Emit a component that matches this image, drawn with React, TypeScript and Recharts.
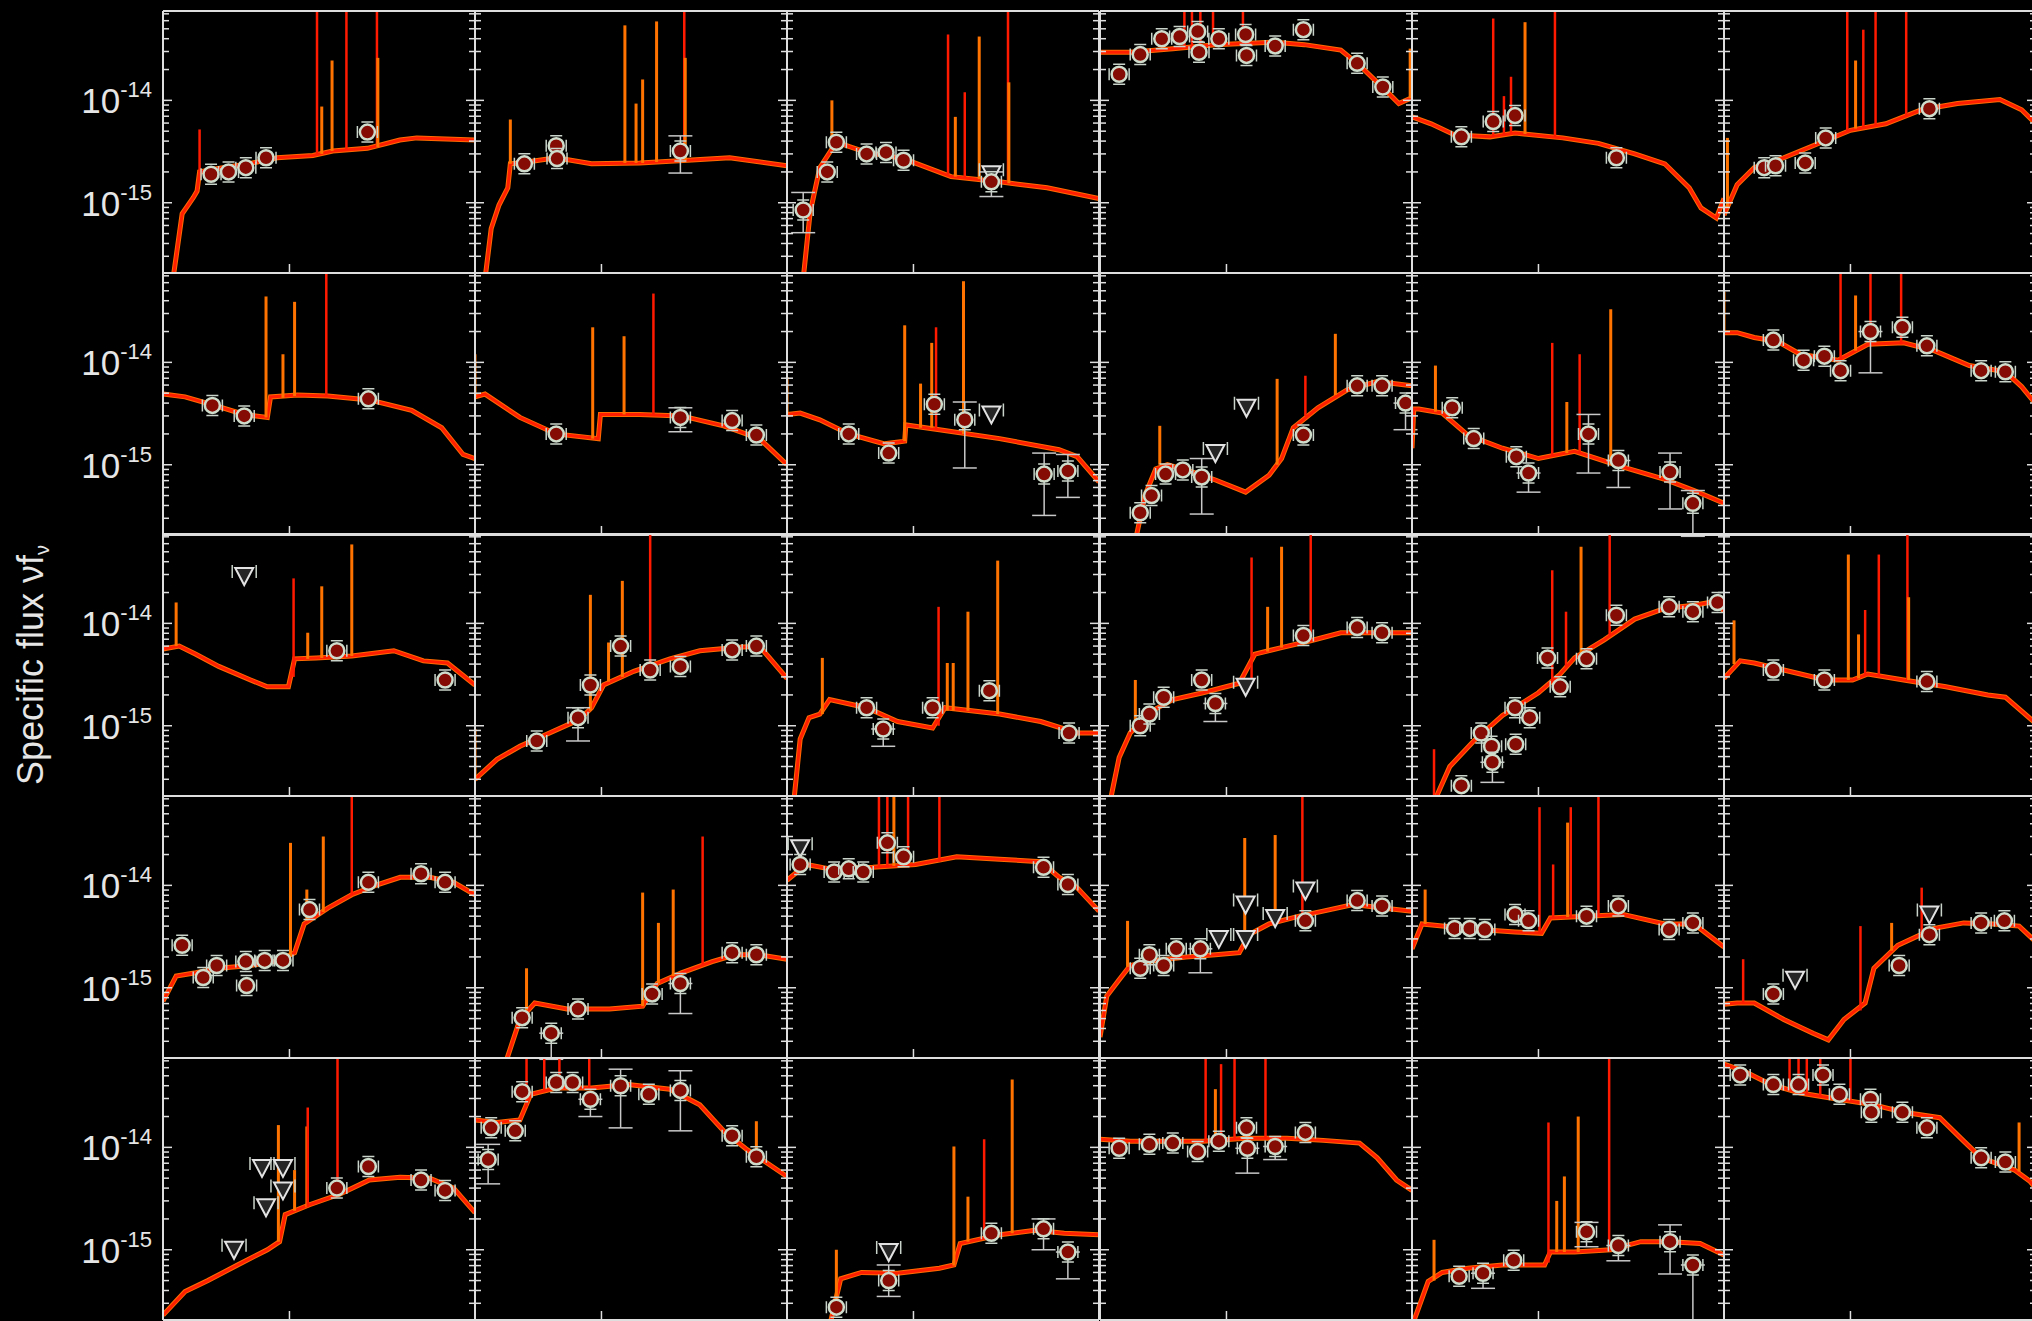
import React from "react";
import {
  ComposedChart,
  Line,
  Scatter,
  XAxis,
  YAxis,
  ReferenceLine,
  ErrorBar,
} from "recharts";

// grid of 5 x 6 SED panels, wavelength in micron, flux nu*f_nu
const COLS = 6;
const PANEL_W = 312;
const PANEL_H = 262;
const X_DOMAIN = [0.3, 5.85];
const Y_DOMAIN = [2.06e-16, 7.46e-14];

const xMajorTicks = [1];
const xMinorTicks = [0.4, 0.5, 0.6, 0.7, 0.8, 0.9, 2, 3, 4, 5];
const yMajorTicks = [1e-15, 1e-14];
const yMinorTicks = [
  3e-16, 4e-16, 5e-16, 6e-16, 7e-16, 8e-16, 9e-16,
  2e-15, 3e-15, 4e-15, 5e-15, 6e-15, 7e-15, 8e-15, 9e-15,
  2e-14, 3e-14, 4e-14, 5e-14, 6e-14, 7e-14,
];

// continuum of each spectrum: [wavelength, flux]
const spectra: number[][][] = [
  [[0.33,1.8e-16],[0.36,7.8e-16],[0.40,1.12e-15],[0.415,1.3e-15],[0.425,2.0e-15],[0.50,2.15e-15],[0.68,2.4e-15],[0.89,2.75e-15],[1.25,2.9e-15],[1.51,3.2e-15],[2.1,3.4e-15],[2.86,4.1e-15],[3.36,4.3e-15],[5.85,4.1e-15]],
  [[0.33,1.8e-16],[0.35,5.6e-16],[0.377,9.5e-16],[0.41,1.4e-15],[0.42,2.4e-15],[0.46,2.45e-15],[0.65,2.75e-15],[0.91,2.4e-15],[1.44,2.45e-15],[2.27,2.6e-15],[3.39,2.75e-15],[5.85,2.3e-15]],
  [[0.35,1.8e-16],[0.374,8.1e-16],[0.41,2.2e-15],[0.48,3.9e-15],[0.64,3.1e-15],[0.91,2.7e-15],[1.43,1.8e-15],[2.27,1.6e-15],[3.57,1.4e-15],[5.85,1.1e-15]],
  [[0.30,2.95e-14],[0.40,2.95e-14],[0.60,3.2e-14],[0.90,3.5e-14],[1.59,3.7e-14],[2.1,3.5e-14],[2.97,3.1e-14],[3.55,2.2e-14],[4.2,1.5e-14],[4.72,1.15e-14],[5.16,9.3e-15],[5.78,1.05e-14]],
  [[0.30,6.9e-15],[0.36,5.9e-15],[0.45,4.6e-15],[0.63,4.4e-15],[0.80,4.8e-15],[1.26,4.3e-15],[1.77,3.8e-15],[2.5,3.0e-15],[3.33,2.4e-15],[4.2,1.4e-15],[4.7,8.9e-16],[5.44,7.1e-16],[5.85,1.1e-15]],
  [[0.30,7.6e-16],[0.34,1.5e-15],[0.40,2.2e-15],[0.53,2.75e-15],[0.70,3.6e-15],[1.0,5.1e-15],[1.40,5.9e-15],[1.97,8.1e-15],[2.77,9.3e-15],[4.15,1.02e-14],[5.1,8.1e-15],[5.85,5.9e-15]],

  [[0.30,4.9e-15],[0.37,4.6e-15],[0.49,3.8e-15],[0.65,3.1e-15],[0.81,2.9e-15],[0.835,4.6e-15],[1.08,4.8e-15],[1.44,4.7e-15],[2.14,4.3e-15],[3.2,3.4e-15],[4.26,2.3e-15],[5.22,1.26e-15],[5.85,1.15e-15]],
  [[0.30,4.6e-15],[0.33,4.9e-15],[0.46,2.9e-15],[0.65,2.0e-15],[0.97,1.8e-15],[0.99,3.1e-15],[1.44,3.1e-15],[2.14,3.0e-15],[3.2,2.4e-15],[4.5,1.8e-15],[5.85,1.0e-15]],
  [[0.30,3.1e-15],[0.34,3.2e-15],[0.41,2.75e-15],[0.54,2.0e-15],[0.76,1.6e-15],[0.92,1.7e-15],[0.93,2.45e-15],[1.28,2.2e-15],[2.27,1.8e-15],[4.0,1.4e-15],[4.75,1.2e-15],[5.85,6.8e-16]],
  [[0.42,1.8e-16],[0.46,5.0e-16],[0.51,9.1e-16],[0.57,1.0e-15],[0.72,8.5e-16],[0.90,7.1e-16],[1.2,5.4e-16],[1.50,7.9e-16],[1.69,1.15e-15],[1.89,2.3e-15],[2.39,3.6e-15],[3.16,5.4e-15],[4.2,6.5e-15],[5.85,5.9e-15]],
  [[0.30,1.45e-15],[0.305,3.5e-15],[0.32,3.5e-15],[0.40,3.2e-15],[0.51,1.95e-15],[0.71,1.45e-15],[1.0,1.15e-15],[1.41,1.35e-15],[2.24,9.5e-16],[3.33,7.2e-16],[4.4,5.6e-16],[5.85,4.2e-16]],
  [[0.30,1.95e-14],[0.34,1.95e-14],[0.40,1.75e-14],[0.50,1.6e-14],[0.62,1.2e-14],[0.89,1.05e-14],[1.18,1.5e-14],[1.66,1.55e-14],[2.22,1.3e-14],[3.1,9.3e-15],[4.37,8.1e-15],[5.1,5.8e-15],[5.85,3.9e-15]],

  [[0.30,5.6e-15],[0.35,6.0e-15],[0.41,5.0e-15],[0.51,3.8e-15],[0.69,2.8e-15],[0.81,2.4e-15],[0.99,2.4e-15],[1.05,4.5e-15],[1.29,4.6e-15],[1.81,4.8e-15],[2.7,5.4e-15],[3.58,4.3e-15],[4.5,4.1e-15],[5.85,2.5e-15]],
  [[0.30,3.0e-16],[0.37,4.7e-16],[0.46,6.3e-16],[0.61,8.5e-16],[0.81,1.15e-15],[0.91,1.5e-15],[1.02,2.5e-15],[1.36,3.4e-15],[1.92,4.5e-15],[2.55,5.4e-15],[3.58,5.8e-15],[4.5,6.0e-15],[5.85,2.9e-15]],
  [[0.32,1.8e-16],[0.34,7.4e-16],[0.37,1.2e-15],[0.41,1.3e-15],[0.45,1.8e-15],[0.64,1.5e-15],[0.86,1.1e-15],[1.2,9.5e-16],[1.35,1.5e-15],[2.27,1.3e-15],[3.36,1.1e-15],[4.75,8.5e-16],[5.85,8.5e-16]],
  [[0.33,1.8e-16],[0.36,4.9e-16],[0.40,8.5e-16],[0.48,1.35e-15],[0.60,1.8e-15],[0.80,2.1e-15],[1.13,2.6e-15],[1.31,5.0e-15],[1.69,5.8e-15],[2.25,6.8e-15],[2.97,8.1e-15],[4.2,8.1e-15],[5.85,8.1e-15]],
  [[0.37,1.8e-16],[0.43,4.0e-16],[0.54,7.1e-16],[0.71,1.26e-15],[1.0,2.1e-15],[1.23,3.2e-15],[1.41,4.6e-15],[1.87,6.9e-15],[2.5,1.1e-14],[3.33,1.4e-14],[4.4,1.5e-14],[5.5,1.65e-14],[5.85,1.3e-14]],
  [[0.30,2.9e-15],[0.35,4.3e-15],[0.40,4.1e-15],[0.53,3.5e-15],[0.79,2.8e-15],[1.02,2.8e-15],[1.18,3.2e-15],[1.66,2.8e-15],[2.48,2.4e-15],[3.7,2.0e-15],[4.37,1.9e-15],[5.85,1.05e-15]],

  [[0.30,7.4e-16],[0.34,1.3e-15],[0.41,1.4e-15],[0.51,1.55e-15],[0.69,1.65e-15],[0.91,1.85e-15],[1.05,2.2e-15],[1.15,4.2e-15],[1.44,6.0e-15],[1.81,8.1e-15],[2.27,1.0e-14],[2.87,1.2e-14],[3.8,1.2e-14],[4.77,1.07e-14],[5.85,8.1e-15]],
  [[0.40,1.8e-16],[0.46,4.9e-16],[0.53,7.1e-16],[0.72,6.2e-16],[1.08,6.2e-16],[1.48,6.6e-16],[1.70,1.1e-15],[2.14,1.4e-15],[2.87,1.8e-15],[3.58,2.1e-15],[4.5,2.1e-15],[5.85,1.9e-15]],
  [[0.30,1.12e-14],[0.36,1.6e-14],[0.45,1.45e-14],[0.68,1.5e-14],[1.02,1.6e-14],[1.51,1.9e-14],[2.27,1.8e-14],[3.36,1.7e-14],[4.0,1.2e-14],[4.75,9.5e-15],[5.85,5.6e-15]],
  [[0.30,3.3e-16],[0.32,8.3e-16],[0.36,1.2e-15],[0.40,1.65e-15],[0.51,1.85e-15],[0.68,2.0e-15],[0.90,2.1e-15],[1.13,2.2e-15],[1.24,3.3e-15],[1.50,4.2e-15],[2.0,5.0e-15],[2.51,5.6e-15],[3.34,6.5e-15],[4.43,6.0e-15],[5.85,5.6e-15]],
  [[0.30,2.4e-15],[0.33,4.2e-15],[0.40,4.0e-15],[0.57,3.7e-15],[0.80,3.5e-15],[1.03,3.4e-15],[1.12,4.8e-15],[1.58,5.0e-15],[2.24,5.2e-15],[3.33,4.2e-15],[4.4,4.2e-15],[5.85,2.5e-15]],
  [[0.30,6.9e-16],[0.34,7.1e-16],[0.40,7.1e-16],[0.53,4.9e-16],[0.70,3.6e-16],[0.81,3.1e-16],[0.94,4.9e-16],[1.15,7.1e-16],[1.25,1.55e-15],[1.57,2.6e-15],[2.22,3.8e-15],[2.94,4.3e-15],[3.92,4.2e-15],[4.98,4.0e-15],[5.85,2.8e-15]],

  [[0.30,2.3e-16],[0.37,3.9e-16],[0.46,5.0e-16],[0.61,7.1e-16],[0.81,1.0e-15],[0.91,1.2e-15],[0.96,2.2e-15],[1.21,2.75e-15],[1.62,3.5e-15],[2.14,4.8e-15],[2.87,5.1e-15],[3.8,5.0e-15],[4.77,4.0e-15],[5.85,2.3e-15]],
  [[0.30,1.85e-14],[0.37,1.75e-14],[0.46,1.85e-14],[0.51,3.3e-14],[0.65,3.8e-14],[0.91,3.8e-14],[1.29,4.1e-14],[1.92,3.7e-14],[2.55,2.6e-14],[3.2,1.45e-14],[4.0,9.5e-15],[4.77,7.2e-15],[5.85,5.2e-15]],
  [[0.45,1.8e-16],[0.50,5.2e-16],[0.61,6.0e-16],[0.86,5.9e-16],[1.28,6.6e-16],[1.47,7.1e-16],[1.56,1.15e-15],[2.27,1.4e-15],[3.18,1.55e-15],[4.2,1.45e-15],[5.85,1.4e-15]],
  [[0.30,1.2e-14],[0.40,1.15e-14],[0.57,1.15e-14],[0.80,1.15e-14],[1.2,1.23e-14],[1.78,1.23e-14],[2.51,1.17e-14],[3.55,1.1e-14],[4.2,7.9e-15],[5.05,4.8e-15],[5.85,3.8e-15]],
  [[0.30,1.8e-16],[0.35,4.9e-16],[0.40,6.0e-16],[0.51,6.6e-16],[0.71,7.1e-16],[1.06,7.1e-16],[1.12,9.5e-16],[1.41,9.5e-16],[1.99,1.0e-15],[2.65,1.2e-15],[3.5,1.2e-15],[4.66,1.15e-15],[5.85,8.9e-16]],
  [[0.30,6.5e-14],[0.36,5.6e-14],[0.47,4.1e-14],[0.62,3.4e-14],[0.89,2.95e-14],[1.25,2.6e-14],[1.66,2.2e-14],[2.34,1.95e-14],[2.94,1.15e-14],[3.47,7.9e-15],[4.37,6.5e-15],[4.77,6.0e-15],[5.5,4.7e-15],[5.85,4.0e-15]],
];

// emission lines: [wavelength, continuum, peak, colour]
const emission: (number | string)[][][] = [
  [[0.425,2.0e-15,5.2e-15,"r"],[1.30,3.0e-15,1e-13,"r"],[1.36,3.0e-15,8.7e-15,"o"],[1.50,3.2e-15,2.45e-14,"o"],[1.72,3.3e-15,1e-13,"r"],[2.30,3.5e-15,1e-13,"r"],[2.32,3.5e-15,2.6e-14,"o"]],
  [[0.42,2.4e-15,6.5e-15,"o"],[1.25,2.45e-15,5.4e-14,"o"],[1.39,2.45e-15,9.3e-15,"o"],[1.48,2.45e-15,1.6e-14,"o"],[1.69,2.5e-15,5.9e-14,"o"],[2.2,2.6e-15,1e-13,"r"],[2.22,2.6e-15,2.6e-14,"o"]],
  [[0.46,3.5e-15,1e-14,"o"],[1.39,1.9e-15,4.4e-14,"r"],[1.49,1.8e-15,6.9e-15,"o"],[1.63,1.75e-15,1.2e-14,"r"],[1.87,1.7e-15,4.2e-14,"o"],[2.46,1.55e-15,1e-13,"r"],[2.48,1.55e-15,1.5e-14,"o"]],
  [[0.67,3.3e-14,1e-13,"r"],[0.72,3.3e-14,1e-13,"r"],[0.78,3.4e-14,1e-13,"r"],[0.88,3.5e-14,1e-13,"r"],[1.17,3.6e-14,1e-13,"r"],[5.75,1.05e-14,3.2e-14,"o"]],
  [[0.65,4.4e-15,6.3e-14,"r"],[0.72,4.5e-15,1.1e-14,"r"],[0.77,4.7e-15,1.7e-14,"r"],[0.88,4.7e-15,5.8e-14,"o"],[1.17,4.4e-15,1e-13,"r"]],
  [[0.31,9e-16,4.3e-15,"o"],[0.97,5e-15,1e-13,"r"],[1.05,5.3e-15,2.45e-14,"o"],[1.13,5.5e-15,4.9e-14,"r"],[1.27,5.7e-15,1e-13,"r"],[1.70,7e-15,1e-13,"r"]],

  [[0.80,2.9e-15,4.4e-14,"o"],[0.94,4.5e-15,1.2e-14,"o"],[1.05,4.7e-15,3.9e-14,"o"],[1.42,4.7e-15,1e-13,"r"]],
  [[0.30,4.6e-15,1.2e-14,"o"],[0.92,1.8e-15,2.2e-14,"o"],[1.24,3.1e-15,1.8e-14,"o"],[1.64,3.1e-15,4.7e-14,"r"]],
  [[0.30,3.1e-15,7.2e-15,"o"],[0.92,1.7e-15,2.3e-14,"o"],[1.07,2.3e-15,6.2e-15,"o"],[1.19,2.3e-15,1.55e-14,"o"],[1.24,2.2e-15,2.2e-14,"r"],[1.61,2.0e-15,6.2e-14,"o"]],
  [[0.53,1.0e-15,2.4e-15,"o"],[1.62,1.0e-15,6.9e-15,"o"],[2.12,3.0e-15,7.4e-15,"r"],[2.82,4.8e-15,1.9e-14,"o"]],
  [[0.375,3.3e-15,9.3e-15,"o"],[1.14,1.2e-15,1.55e-14,"r"],[1.31,1.3e-15,4.1e-15,"o"],[1.48,1.3e-15,1.2e-14,"r"],[1.99,1.0e-15,3.3e-14,"o"]],
  [[0.30,1.95e-14,4.9e-14,"o"],[0.91,1.05e-14,1e-13,"r"],[1.05,1.3e-14,4.5e-14,"o"],[1.21,1.5e-14,1e-13,"r"],[1.62,1.5e-14,1e-13,"r"]],

  [[0.34,6.0e-15,1.6e-14,"o"],[1.04,3e-15,2.75e-14,"r"],[1.19,4.5e-15,8.1e-15,"o"],[1.36,4.6e-15,2.3e-14,"o"],[1.81,4.8e-15,5.9e-14,"o"]],
  [[0.30,3e-16,9.3e-16,"o"],[0.90,1.4e-15,1.9e-14,"o"],[1.07,2.7e-15,6.5e-15,"o"],[1.22,3.0e-15,2.6e-14,"o"],[1.59,4e-15,1e-13,"r"]],
  [[0.42,1.3e-15,4.6e-15,"o"],[1.27,1.0e-15,1.45e-14,"r"],[1.38,1.4e-15,4.1e-15,"o"],[1.46,1.4e-15,4.1e-15,"o"],[1.68,1.4e-15,1.3e-14,"o"],[2.23,1.3e-15,4.1e-14,"o"]],
  [[0.42,9e-16,2.8e-15,"o"],[1.27,2.8e-15,4.4e-14,"r"],[1.48,5.3e-15,1.45e-14,"o"],[1.69,5.8e-15,5.6e-14,"o"],[2.23,6.8e-15,1e-13,"r"]],
  [[0.37,1.8e-16,5.9e-16,"r"],[1.14,2.8e-15,3.3e-14,"r"],[1.30,3.8e-15,1.3e-14,"r"],[1.50,4.8e-15,5.6e-14,"o"],[1.97,7.5e-15,1e-13,"r"]],
  [[0.33,4e-15,1.07e-14,"o"],[0.98,2.8e-15,4.7e-14,"o"],[1.08,2.9e-15,7.8e-15,"o"],[1.15,3.1e-15,1.35e-14,"r"],[1.31,3.1e-15,4.7e-14,"r"],[1.72,2.8e-15,1e-13,"r"],[1.74,2.8e-15,1.8e-14,"o"]],

  [[1.01,2.0e-15,2.6e-14,"o"],[1.18,4.5e-15,9.1e-15,"o"],[1.38,5.5e-15,3.0e-14,"o"],[1.81,8e-15,1e-13,"r"]],
  [[0.49,6e-16,1.55e-15,"o"],[1.48,6.6e-16,8.5e-15,"o"],[1.72,1.1e-15,4.3e-15,"o"],[1.98,1.3e-15,9.1e-15,"o"],[2.62,1.7e-15,3.0e-14,"r"]],
  [[0.72,1.5e-14,1e-13,"r"],[0.78,1.5e-14,1e-13,"r"],[0.83,1.55e-14,1e-13,"o"],[0.95,1.6e-14,1e-13,"r"],[1.28,1.7e-14,1e-13,"r"]],
  [[0.39,1.6e-15,4.5e-15,"o"],[1.19,2.5e-15,2.9e-14,"o"],[1.59,4.4e-15,3.1e-14,"o"],[2.06,5e-15,1e-13,"r"]],
  [[0.34,4.2e-15,9.1e-15,"o"],[1.01,3.4e-15,5.8e-14,"r"],[1.15,4.8e-15,1.6e-14,"r"],[1.32,4.9e-15,4.1e-14,"o"],[1.36,4.9e-15,5.8e-14,"r"],[1.77,5e-15,1e-13,"r"]],
  [[0.36,7e-16,1.9e-15,"r"],[1.10,6e-16,4.0e-15,"r"],[1.48,2.3e-15,4.3e-15,"o"],[1.97,3.3e-15,9.5e-15,"r"]],

  [[0.90,1.2e-15,1.65e-14,"o"],[1.05,2.4e-15,6.0e-15,"o"],[1.18,2.6e-15,1.6e-14,"o"],[1.19,2.6e-15,2.45e-14,"r"],[1.58,3.4e-15,1e-13,"r"]],
  [[0.49,2.5e-14,1e-13,"r"],[0.58,3.6e-14,1e-13,"r"],[0.67,3.8e-14,1e-13,"r"],[0.89,3.8e-14,1e-13,"r"],[4.37,8.5e-15,1.8e-14,"o"]],
  [[0.48,3e-16,1.0e-15,"o"],[1.47,7e-16,1.02e-14,"o"],[1.68,1.2e-15,3.3e-15,"o"],[1.96,1.25e-15,1.2e-14,"r"],[2.56,1.45e-15,4.6e-14,"o"]],
  [[0.82,1.15e-14,1e-13,"r"],[0.90,1.15e-14,3.7e-14,"o"],[0.95,1.15e-14,6.5e-14,"r"],[1.08,1.2e-14,1e-13,"r"],[1.45,1.2e-14,1e-13,"r"]],
  [[0.37,5e-16,1.25e-15,"o"],[1.10,7.5e-16,1.75e-14,"r"],[1.19,9.5e-16,3.0e-15,"o"],[1.28,9.5e-16,5.2e-15,"o"],[1.46,9.5e-16,2.0e-14,"o"],[1.96,1.0e-15,1e-13,"r"]],
  [[0.56,3.7e-14,1e-13,"r"],[0.61,3.5e-14,1e-13,"r"],[0.66,3.3e-14,1e-13,"r"],[0.75,3.1e-14,1e-13,"r"],[1.0,2.8e-14,1e-13,"r"],[4.98,5.8e-15,1.75e-14,"o"]],
];

// photometry: [wavelength, flux] or [wavelength, flux, low, high]
const photometry: number[][][] = [
  [[0.474,1.9e-15],[0.56,2.0e-15],[0.66,2.2e-15],[0.80,2.75e-15],[2.1,4.9e-15]],
  [[0.48,2.4e-15],[0.65,3.6e-15],[0.655,2.7e-15],[2.12,3.2e-15,1.95e-15,4.5e-15]],
  [[0.35,8.5e-16,5.1e-16,1.26e-15],[0.44,2.0e-15],[0.48,3.9e-15],[0.64,3.0e-15],[0.77,3.1e-15],[0.91,2.6e-15],[2.1,1.6e-15,1.15e-15,2.0e-15]],
  [[0.36,1.8e-14],[0.44,2.8e-14],[0.54,4.0e-14],[0.64,4.2e-14],[0.76,4.7e-14],[0.77,2.95e-14],[0.93,4.0e-14],[1.2,4.4e-14],[1.21,2.75e-14],[1.59,3.4e-14],[2.08,4.9e-14],[3.47,2.3e-14],[4.43,1.35e-14]],
  [[0.48,4.4e-15],[0.65,6.2e-15],[0.80,7.1e-15],[2.1,2.75e-15]],
  [[0.44,2.2e-15],[0.49,2.3e-15],[0.65,2.45e-15],[0.79,4.3e-15],[2.12,8.3e-15]],

  [[0.48,3.8e-15],[0.65,3.0e-15],[2.12,4.4e-15]],
  [[0.65,2.0e-15],[2.12,2.9e-15,2.1e-15,3.6e-15],[3.47,2.7e-15],[4.37,1.95e-15]],
  [[0.54,2.0e-15],[0.79,1.3e-15],[1.22,3.9e-15],[1.63,2.75e-15,9.3e-16,4.1e-15],[3.47,8.1e-16,3.2e-16,1.3e-15],[4.35,8.7e-16,4.8e-16,1.26e-15]],
  [[0.44,3.4e-16],[0.49,5.0e-16],[0.56,8.1e-16],[0.66,8.9e-16],[0.79,7.6e-16,3.3e-16,1.15e-15],[2.08,1.95e-15],[3.47,5.9e-15],[4.4,5.9e-15],[5.5,4.0e-15,2.2e-15,4.0e-15]],
  [[0.44,3.6e-15],[0.54,1.8e-15],[0.81,1.2e-15],[0.91,8.3e-16,5.4e-16,8.3e-16],[1.61,2.0e-15,8.3e-16,3.1e-15],[2.14,1.1e-15,6.0e-16,1.1e-15],[3.5,8.5e-16,3.7e-16,1.3e-15],[4.35,4.2e-16,2.0e-16,5.6e-16]],
  [[0.48,1.65e-14],[0.64,1.05e-14],[0.78,1.15e-14],[0.91,8.3e-15],[1.21,2.0e-14,7.9e-15,2.0e-14],[1.64,2.2e-14],[2.07,1.45e-14],[3.47,8.3e-15],[4.37,8.1e-15]],

  [[1.57,5.4e-15],[4.4,2.8e-15]],
  [[0.54,7.1e-16],[0.80,1.2e-15,7.1e-16,1.5e-15],[0.90,2.5e-15],[1.2,6.0e-15],[1.59,3.5e-15],[2.12,3.8e-15],[3.47,5.5e-15],[4.37,6.0e-15]],
  [[0.64,1.5e-15],[0.75,9.3e-16,6.3e-16,9.3e-16],[1.2,1.5e-15],[2.06,2.2e-15],[4.4,8.5e-16]],
  [[0.44,1.0e-15],[0.48,1.3e-15],[0.55,1.9e-15],[0.79,2.8e-15],[0.90,1.65e-15,1.1e-15,1.65e-15],[2.08,7.6e-15],[3.47,9.1e-15],[4.4,8.1e-15]],
  [[0.48,2.6e-16],[0.58,8.5e-16],[0.64,6.3e-16],[0.645,4.4e-16,2.8e-16,4.4e-16],[0.80,1.5e-15],[0.805,6.6e-16],[0.92,1.2e-15],[1.09,4.6e-15],[1.23,2.4e-15],[1.58,4.5e-15],[2.1,1.2e-14],[3.47,1.45e-14],[4.35,1.3e-14],[5.5,1.6e-14]],
  [[0.48,3.5e-15],[0.78,2.8e-15],[2.07,2.7e-15]],

  [[0.36,2.6e-15],[0.44,1.26e-15],[0.50,1.65e-15],[0.66,1.8e-15],[0.665,1.05e-15],[0.79,1.85e-15],[0.94,1.85e-15],[1.21,5.8e-15],[2.12,1.07e-14],[3.5,1.3e-14],[4.4,1.07e-14]],
  [[0.47,5.1e-16],[0.62,3.6e-16,2.0e-16,3.6e-16],[0.80,6.2e-16],[1.62,8.7e-16],[2.12,1.1e-15,5.6e-16,1.1e-15],[3.47,2.2e-15],[4.37,2.1e-15]],
  [[0.34,1.6e-14],[0.47,1.35e-14],[0.54,1.45e-14],[0.62,1.35e-14],[0.78,2.6e-14],[0.91,1.9e-14],[3.45,1.5e-14],[4.35,1.02e-14]],
  [[0.44,1.55e-15],[0.48,2.1e-15],[0.55,1.65e-15],[0.62,2.4e-15],[0.78,2.4e-15,1.4e-15,2.4e-15],[2.12,4.5e-15],[3.47,7.1e-15],[4.4,6.3e-15]],
  [[0.45,3.8e-15],[0.52,3.8e-15],[0.60,3.7e-15],[0.80,5.2e-15],[0.91,4.5e-15],[1.58,5.0e-15],[2.14,6.3e-15],[3.47,3.7e-15],[4.35,4.3e-15]],
  [[0.48,8.7e-16],[1.59,1.65e-15],[2.12,3.3e-15],[3.47,4.3e-15],[4.33,4.5e-15]],

  [[1.57,4.0e-15],[2.12,6.5e-15],[3.5,4.8e-15],[4.4,3.8e-15]],
  [[0.34,7.6e-15,4.4e-15,1.07e-14],[0.35,1.55e-14],[0.44,1.45e-14],[0.47,3.5e-14],[0.65,4.3e-14],[0.76,4.3e-14],[0.90,2.95e-14,2.0e-14,2.95e-14],[1.2,4.0e-14,1.55e-14,5.8e-14],[1.57,3.3e-14],[2.12,3.6e-14,1.45e-14,5.6e-14],[3.47,1.3e-14],[4.37,8.1e-15]],
  [[0.48,2.75e-16],[0.79,5.0e-16,3.5e-16,7.1e-16],[2.1,1.45e-15],[3.45,1.6e-15,1.0e-15,2.0e-15],[4.35,9.5e-16,5.2e-16,9.5e-16]],
  [[0.36,9.8e-15],[0.48,1.07e-14],[0.60,1.1e-14],[0.76,9.1e-15],[0.93,1.15e-14],[1.21,1.55e-14],[1.22,9.8e-15,5.6e-15,9.8e-15],[1.59,1.02e-14,7.6e-15,1.02e-14],[2.12,1.4e-14]],
  [[0.47,5.5e-16],[0.59,5.9e-16,4.2e-16,5.9e-16],[0.79,7.9e-16],[1.58,1.5e-15,1.07e-15,1.85e-15],[2.14,1.1e-15,7.8e-16,1.1e-15],[3.5,1.2e-15,5.8e-16,1.75e-15],[4.35,7.1e-16,2.0e-16,7.1e-16]],
  [[0.35,5.1e-14],[0.48,4.1e-14],[0.61,4.1e-14],[0.77,5.1e-14],[0.90,3.3e-14],[1.21,2.95e-14],[1.22,2.2e-14],[1.64,2.2e-14],[2.07,1.55e-14],[3.47,7.9e-15],[4.37,7.2e-15]],
];

// upper limits: [wavelength, flux]
const upperLimits: number[][][] = [
  [], [], [[2.1,1.9e-15]], [], [], [],
  [], [], [[2.1,3.1e-15]], [[0.90,1.3e-15],[1.21,3.6e-15]], [], [],
  [[0.65,2.9e-14]], [], [], [[1.2,2.4e-15]], [], [],
  [], [], [[0.34,2.3e-14]], [[0.93,3.0e-15],[1.2,6.5e-15],[1.2,3.0e-15],[1.59,4.8e-15],[2.12,8.9e-15]], [], [[0.59,1.2e-15],[2.12,5.2e-15]],
  [[0.59,1.0e-15],[0.77,6.3e-15],[0.94,6.3e-15],[0.94,3.8e-15],[0.80,2.6e-15]], [], [[0.79,9.5e-16]], [], [], [],
];

const FRAME = "#dedede";
const FONT = "'Liberation Sans', Arial, Helvetica, sans-serif";
const axisLine = { stroke: FRAME, strokeWidth: 2 };
const tickLine = { stroke: FRAME, strokeWidth: 1.5 };

function PhotDot(props: any) {
  const { cx, cy } = props;
  if (cx == null || cy == null) return null;
  return (
    <g>
      <path
        d={`M${cx - 6},${cy - 10}h12M${cx - 6},${cy + 10}h12M${cx - 10},${cy - 6}v12M${cx + 10},${cy - 6}v12`}
        stroke="#c9d3c9"
        strokeWidth={1.5}
        fill="none"
      />
      <circle cx={cx} cy={cy} r={7.5} fill="#850b05" stroke="#cfdccb" strokeWidth={2.5} />
    </g>
  );
}

function LimitMark(props: any) {
  const { cx, cy } = props;
  if (cx == null || cy == null) return null;
  return (
    <g>
      <path
        d={`M${cx - 12},${cy - 11}v13M${cx + 12},${cy - 11}v13`}
        stroke="#c9d3c9"
        strokeWidth={1.5}
        fill="none"
      />
      <path
        d={`M${cx - 9},${cy - 8}L${cx + 9},${cy - 8}L${cx},${cy + 9}Z`}
        fill="#262626"
        stroke="#e2e2e2"
        strokeWidth={2}
      />
    </g>
  );
}

function NoShape() {
  return null;
}

// ticks need a truthy tick renderer, otherwise Recharts drops the tick lines too
function NoTick() {
  return <g />;
}

function YLabel(props: any) {
  const { y, payload } = props;
  const exp = Math.round(Math.log10(payload.value));
  return (
    <text x={-11} y={y + 13} textAnchor="end" fill="#e6e6e6" fontFamily={FONT} fontSize={35}>
      10
      <tspan fontSize={22} dy={-16}>
        {String(exp)}
      </tspan>
    </text>
  );
}

function Panel({ i }: { i: number }) {
  const r = Math.floor(i / COLS);
  const c = i % COLS;
  const spec = spectra[i].map(([x, y]) => ({ x, y }));
  const pts = photometry[i].map(([x, y]) => ({ x, y }));
  const errs = photometry[i]
    .filter((p) => p.length > 2)
    .map(([x, y, lo, hi]) => ({ x, y, ey: [y - lo, hi - y] }));
  const ups = upperLimits[i].map(([x, y]) => ({ x, y }));

  const common = {
    type: "number" as const,
    scale: "log" as const,
    allowDataOverflow: true,
    mirror: true,
    interval: 0 as const,
    tick: NoTick,
    tickLine,
  };

  return (
    <div
      style={{
        position: "absolute",
        left: Math.round(163 + c * 312.2),
        top: Math.round(11 + r * 261.7),
      }}
    >
      <ComposedChart width={PANEL_W} height={PANEL_H} margin={{ top: 0, right: 0, bottom: 0, left: 0 }}>
        <XAxis {...common} dataKey="x" domain={X_DOMAIN} height={1} ticks={xMajorTicks} tickSize={9} axisLine={axisLine} />
        <XAxis {...common} xAxisId="bm" domain={X_DOMAIN} height={1} ticks={xMinorTicks} tickSize={5} axisLine={false} />
        <XAxis {...common} xAxisId="t" orientation="top" domain={X_DOMAIN} height={1} ticks={xMajorTicks} tickSize={9} axisLine={axisLine} />
        <XAxis {...common} xAxisId="tm" orientation="top" domain={X_DOMAIN} height={1} ticks={xMinorTicks} tickSize={5} axisLine={false} />
        <YAxis
          {...common}
          dataKey="y"
          domain={Y_DOMAIN}
          width={1}
          ticks={yMajorTicks}
          tickSize={9}
          axisLine={axisLine}
          tick={c === 0 ? (p: any) => <YLabel {...p} /> : NoTick}
        />
        <YAxis {...common} yAxisId="lm" domain={Y_DOMAIN} width={1} ticks={yMinorTicks} tickSize={5} axisLine={false} />
        <YAxis {...common} yAxisId="r" orientation="right" domain={Y_DOMAIN} width={1} ticks={yMajorTicks} tickSize={9} axisLine={axisLine} />
        <YAxis {...common} yAxisId="rm" orientation="right" domain={Y_DOMAIN} width={1} ticks={yMinorTicks} tickSize={5} axisLine={false} />

        <Line data={spec} dataKey="y" type="linear" stroke="#ff6a00" strokeWidth={5} dot={false} isAnimationActive={false} />
        <Line data={spec} dataKey="y" type="linear" stroke="#ff1e00" strokeWidth={3} dot={false} isAnimationActive={false} />

        {emission[i].map(([x, base, peak, col], k) => (
          <ReferenceLine
            key={k}
            segment={[
              { x: x as number, y: base as number },
              { x: x as number, y: peak as number },
            ]}
            stroke={col === "o" ? "#ff7400" : "#ff1a00"}
            strokeWidth={col === "o" ? 3 : 2.5}
            ifOverflow="hidden"
          />
        ))}

        <Scatter data={errs} shape={NoShape} isAnimationActive={false}>
          <ErrorBar dataKey="ey" direction="y" width={12} stroke="#c8c8c8" strokeWidth={1.5} />
        </Scatter>
        <Scatter data={ups} shape={LimitMark} isAnimationActive={false} />
        <Scatter data={pts} shape={PhotDot} isAnimationActive={false} />
      </ComposedChart>
    </div>
  );
}

export default function App() {
  return (
    <div
      style={{
        position: "fixed",
        left: 0,
        top: 0,
        width: 2032,
        height: 1321,
        background: "#000",
        overflow: "hidden",
      }}
    >
      <style>{`.recharts-surface{overflow:visible !important}`}</style>
      {spectra.map((_, i) => (
        <Panel key={i} i={i} />
      ))}
      <svg width={80} height={1321} style={{ position: "absolute", left: 0, top: 0 }}>
        <text
          x={43}
          y={665}
          transform="rotate(-90 43 665)"
          textAnchor="middle"
          fill="#e6e6e6"
          fontFamily={FONT}
          fontSize={36}
        >
          Specific flux νf
          <tspan fontSize={20} dy={6}>
            ν
          </tspan>
        </text>
      </svg>
    </div>
  );
}
